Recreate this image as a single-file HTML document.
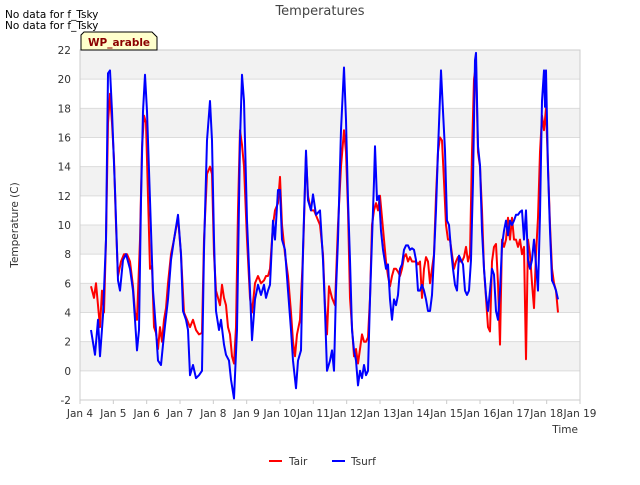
<!DOCTYPE html>
<html><head><meta charset="utf-8"><style>
body{margin:0;background:#fff;font-family:"Liberation Sans","DejaVu Sans",sans-serif;}
svg text{font-family:"DejaVu Sans","Liberation Sans",sans-serif;}
</style></head><body>
<svg id="chart" width="640" height="480" xmlns="http://www.w3.org/2000/svg">
<rect width="640" height="480" fill="#fff"/>
<text x="320" y="15" text-anchor="middle" font-size="13" fill="#444">Temperatures</text>
<text x="5" y="18" font-size="10.5" fill="#000">No data for f_Tsky</text>
<text x="5" y="29" font-size="10.5" fill="#000">No data for f_Tsky</text>
<g id="plot"></g>
<g>
<path d="M81,50 L81,35 L84,32 L152,32 L157,37 L157,50 Z" fill="#ffffcc" stroke="#000" stroke-width="1"/>
<text x="119" y="46" text-anchor="middle" font-size="10.5" font-weight="bold" fill="#8b0000">WP_arable</text>
</g>
<text transform="translate(18,225) rotate(-90)" text-anchor="middle" font-size="10.5" fill="#333">Temperature (C)</text>
<text x="578" y="433" text-anchor="end" font-size="10.5" fill="#333">Time</text>
<g>
<line x1="269" y1="461" x2="282" y2="461" stroke="#f00" stroke-width="2"/>
<text x="289" y="465" font-size="10.5" fill="#333">Tair</text>
<line x1="332" y1="461" x2="345" y2="461" stroke="#00f" stroke-width="2"/>
<text x="351" y="465" font-size="10.5" fill="#333">Tsurf</text>
</g>
</svg>
<script>
const xTickLabels=["Jan 4","Jan 5","Jan 6","Jan 7","Jan 8","Jan 9","Jan 10","Jan 11","Jan 12","Jan 13","Jan 14","Jan 15","Jan 16","Jan 17","Jan 18","Jan 19"];
const yTicks=[-2,0,2,4,6,8,10,12,14,16,18,20,22];
const tsurfDays=[.33,.45,.54,.6,.69,.78,.84,.9,.96,1.05,1.14,1.2,1.29,1.38,1.5,1.59,1.65,1.71,1.77,1.83,1.89,1.95,2.01,2.1,2.19,2.28,2.34,2.43,2.49,2.55,2.64,2.73,2.82,2.94,3.03,3.09,3.18,3.24,3.3,3.39,3.48,3.57,3.66,3.72,3.81,3.9,3.96,4.02,4.08,4.17,4.23,4.32,4.38,4.47,4.53,4.62,4.71,4.8,4.86,4.92,5.01,5.1,5.16,5.25,5.34,5.43,5.52,5.58,5.64,5.7,5.79,5.85,5.94,6.0,6.06,6.15,6.24,6.33,6.39,6.48,6.54,6.63,6.69,6.78,6.84,6.93,6.99,7.08,7.2,7.29,7.35,7.41,7.5,7.56,7.62,7.68,7.74,7.83,7.92,7.98,8.04,8.1,8.16,8.22,8.28,8.34,8.4,8.46,8.52,8.58,8.64,8.7,8.76,8.82,8.85,8.91,8.97,9.03,9.09,9.18,9.24,9.3,9.36,9.42,9.48,9.54,9.6,9.66,9.72,9.78,9.84,9.9,9.96,10.02,10.08,10.14,10.2,10.26,10.32,10.38,10.44,10.5,10.56,10.62,10.68,10.74,10.83,10.89,10.95,11.01,11.07,11.13,11.19,11.25,11.31,11.37,11.43,11.49,11.55,11.61,11.67,11.73,11.79,11.85,11.88,11.94,12.0,12.06,12.12,12.18,12.24,12.3,12.36,12.42,12.48,12.54,12.6,12.66,12.72,12.78,12.84,12.9,12.96,13.02,13.08,13.14,13.2,13.26,13.32,13.38,13.44,13.5,13.56,13.62,13.68,13.74,13.8,13.86,13.92,13.95,13.98,14.04,14.1,14.16,14.22,14.28,14.34];
const tsurfValues=[2.8,1.1,3.5,1,3.8,9,20.4,20.6,17.8,12.4,6.2,5.5,7.6,8,7,5.5,3.5,1.4,2.8,11.7,17.8,20.3,17.8,11.7,5.5,2.8,0.7,0.4,1.8,3.1,4.9,7.6,9,10.7,8,4.1,3.5,2.8,-0.3,0.4,-0.5,-0.3,0,8.3,15.8,18.5,15.8,9,4.1,2.8,3.5,1.8,1.1,0.7,-0.6,-1.9,2.8,15.8,20.3,18.5,10.3,5.5,2.1,4.9,5.9,5.2,5.9,5,5.5,5.9,10.3,9,12.4,12.4,9,8.3,5.5,2.8,0.7,-1.2,0.7,1.4,8.3,15.1,11.7,11,12.1,10.7,11,7.6,4.1,0,0.7,1.4,0,5.5,9,16.5,20.8,17.2,11.7,7.6,2.8,1.4,0.7,-1,0,-0.5,0.4,-0.3,0,4.9,9,13,15.4,11.7,12,9.6,8.3,7,7.3,4.9,3.5,4.9,4.5,5.2,7,7.3,8.3,8.6,8.6,8.3,8.4,8.3,7.6,5.5,5.5,5.9,5.5,4.9,4.1,4.1,5.2,7.9,11,15.1,20.6,17.8,15.1,10.3,10,8.3,7,5.9,5.5,7.9,7.6,7.3,5.5,5.2,5.5,7.6,13,21.3,21.8,15.4,14.1,9.6,7,5.2,4.1,5.5,7,6.6,4.1,3.5,5.5,8.6,9.6,10.3,9.3,10.3,10,10.3,10.7,10.7,10.9,11,9,11,7.6,7,7.6,9,7.3,5.5,10.7,18.5,20.6,18.1,20.6,13.8,9.6,6.2,5.9,5.5,4.9];
const tairEarlyDays=[.33,.42,.48,.54,.6,.66,.72,.78,.84,.9,.96,1.02,1.08,1.14,1.23,1.32,1.41,1.5,1.59,1.65,1.71,1.8,1.86,1.92,1.98,2.04,2.1,2.16,2.22,2.28,2.34,2.4,2.46,2.52,2.58,2.64,2.73,2.82,2.94,3.03,3.12,3.21,3.3,3.39,3.48,3.57,3.66,3.72,3.81,3.9,3.96,4.02,4.08,4.14,4.2,4.26,4.32,4.38,4.44,4.5,4.56,4.62,4.68,4.74,4.8,4.86,4.92,5.01,5.1,5.16,5.25,5.34,5.43,5.52,5.58,5.64,5.7,5.79,5.85,5.94,6.0,6.06,6.15,6.24,6.33,6.39,6.45,6.51,6.6,6.69,6.78,6.84,6.93,7.02,7.11,7.2,7.29,7.35,7.41,7.47,7.56,7.65,7.74,7.83,7.92,7.98,8.04,8.1,8.16,8.22,8.28,8.34,8.4,8.46,8.52,8.58,8.64,8.7];
const tairEarlyValues=[5.8,5,6,4.5,3,5.5,4,9,17,19,17,14.5,10,6.5,7.5,8,8,7.5,5.8,4,3.5,9,15.3,17.5,17,12,7,7.2,3,2.6,1.5,3,2,3.5,4.3,6,8,9,10.5,8,4,3.5,3,3.5,2.8,2.5,2.6,9,13.5,14,13.5,8,5.5,5,4.5,5.9,5,4.5,3,2.5,1,0.5,3,11,16.5,15.5,14,9,5,4,6,6.5,6,6.2,6.5,6.5,7,10,11,11.5,13.3,10,8,6.5,4,2,1,2.5,3.5,8,14.8,12,11,11,10.5,10,8,4.5,2.5,5.8,5,4.5,10,14,16.5,15,11,5,3,1,1.5,0.5,1.5,2.5,2,2,2.3,5];
const tairLateStart=8.76, tairLateStepDays=0.06;
const tairLateValues=[10,11,11.5,11,12,10.5,9,7.5,6.5,5.8,6.5,7,7,6.8,6.5,7,7.8,8,7.5,7.8,7.5,7.5,7.5,7.3,7.5,5,7,7.8,7.5,6,7,8,12,15,16,15.8,13,10,9,9,8,7,7.5,7.8,7.5,7.5,7.8,8.5,7.5,8,15,20,21,15,14,11,7,5,3,2.7,7.5,8.5,8.7,6,1.8,9,8.5,9,10.5,9,10.5,9,9,8.5,9,8,8.5,0.8,9,8,6,4.3,8,10.5,15,17.5,16.5,18,14,10,7,6,5.5,4];

const NS="http://www.w3.org/2000/svg";
const L=80,R=580,T=50,B=400,ymin=-2,ymax=22,xmin=0,xmax=15;
const xs=d=>L+(d-xmin)/(xmax-xmin)*(R-L);
const ys=v=>B-(v-ymin)/(ymax-ymin)*(B-T);
const plot=document.getElementById('plot');
function mk(tag,attrs){const e=document.createElementNS(NS,tag);for(const k in attrs)e.setAttribute(k,attrs[k]);plot.appendChild(e);return e;}
// bands
for(let v=0;v<22;v+=4){const b=mk('rect',{x:L,y:ys(v+2),width:R-L,height:ys(v)-ys(v+2),fill:'#f2f2f2'});

}
yTicks.forEach(v=>{const g=mk('line',{x1:L,x2:R,y1:ys(v),y2:ys(v),stroke:'#dcdcdc','stroke-width':1});


const t=mk('text',{x:L-9,y:ys(v)+4,'text-anchor':'end','font-size':10.5,fill:'#333'});t.textContent=v;

});
mk('rect',{x:L,y:T,width:R-L,height:B-T,fill:'none',stroke:'#ccc'});
xTickLabels.forEach((s,i)=>{const t=mk('text',{x:xs(i),y:B+17,'text-anchor':'middle','font-size':10.5,fill:'#333'});t.textContent=s;


mk('line',{x1:xs(i),x2:xs(i),y1:B,y2:B+4,stroke:'#ccc'});});
const tairDays=tairEarlyDays.slice(),tairValues=tairEarlyValues.slice();
tairLateValues.forEach((v,i)=>{tairDays.push(tairLateStart+tairLateStepDays*i);tairValues.push(v);});
function line(days,vals,color,name){const p=mk('path',{d:days.map((d,i)=>(i?'L':'M')+xs(d).toFixed(1)+','+ys(vals[i]).toFixed(1)).join(''),fill:'none',stroke:color,'stroke-width':2,'stroke-linejoin':'round'});

}
line(tairDays,tairValues,'#f00','tair-line');
line(tsurfDays,tsurfValues,'#00f','tsurf-line');
</script>
</body></html>
